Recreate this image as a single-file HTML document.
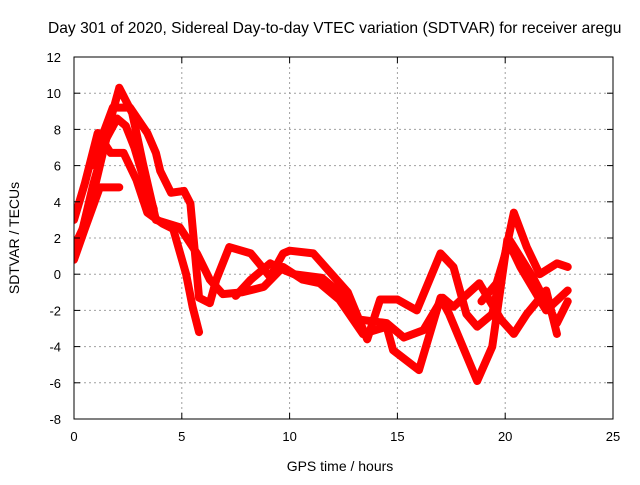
<!DOCTYPE html>
<html><head><meta charset="utf-8"><style>
body{margin:0;background:#fff;width:640px;height:480px;overflow:hidden}
svg{font-family:"Liberation Sans",sans-serif}
</style></head><body>
<svg id="chart" width="640" height="480" viewBox="0 0 640 480">
<text x="48" y="33" font-size="15.6">Day 301 of 2020, Sidereal Day-to-day VTEC variation (SDTVAR) for receiver aregu</text>
<g id="grid"></g>
<g id="series" clip-path="url(#clip)"></g>
<clipPath id="clip"><rect x="74" y="57" width="539" height="362"/></clipPath>
<rect x="74" y="57" width="539" height="362" fill="none" stroke="#000" stroke-width="1"/>
<g id="ticks"></g>
<text x="340" y="471" font-size="14" text-anchor="middle">GPS time / hours</text>
<text transform="translate(19,238) rotate(-90)" font-size="14" text-anchor="middle">SDTVAR / TECUs</text>
</svg>
<script>
const xTicks=[0,5,10,15,20,25];
const yTicks=[-8,-6,-4,-2,0,2,4,6,8,10,12];
const t1h=[0,0.5,1.2,2.1];
const t1v=[0.8,2.5,4.8,4.8];
const t2h=[0,0.5,1.1,1.7,2.3,2.9,3.4,4.1,4.6,5.2,5.5,5.8];
const t2v=[3,5,7.8,6.7,6.7,5.2,3.4,2.8,2.5,0,-1.8,-3.2];
const t3h=[0,0.6,1.2,1.8,2.1,2.7,3.2,3.8,4.9,5.7,6.3,6.9,7.8,8.8,9.7,10.6,11.4,12.3,13.4,14.5,14.8,16,17,17.4,18.7,19.4,20.1,20.7,21.9,22.9];
const t3v=[1.5,3,6,9,10.3,8.9,6.1,3,2.6,1.15,-0.3,-1.1,-1,-0.7,0.4,-0.3,-0.5,-1.4,-3.3,-2.9,-4.2,-5.3,-1.3,-2.2,-5.9,-4,1.9,0.4,-2,-0.9];
const t4h=[0.8,1.8,2.6,3.4,3.8,4.0,4.5,5.1,5.4,5.8,6.3,6.6,7.2,8.2,9.1,9.7,10,11.1,12.7,13.6,14.2,15,15.9,17,17.6,18.2,18.7,19.4,20.4,21,21.6,22.4,22.9];
const t4v=[6,9.2,9.2,7.8,6.7,5.7,4.5,4.6,3.9,-1.3,-1.6,-0.3,1.5,1.15,-0.15,1.15,1.3,1.15,-1,-3.6,-1.4,-1.4,-2,1.15,0.4,-2.2,-2.9,-2.2,3.4,1.5,0,0.6,0.4];
const t5h=[7.5,8.2,9.1,9.6,10.2,11.5,12.5,13.2,14.5,15.3,16.2,17.1,17.6,18.8,19.8,20.4,21,21.9,22.4];
const t5v=[-1.2,-0.3,0.6,0.3,0,-0.2,-1.2,-2.5,-2.7,-3.5,-3.1,-1.3,-1.8,-0.5,-2.5,-3.3,-2.2,-0.9,-3.3];
const t6h=[18.9,19.6,20.2,21.3,22.4,22.9];
const t6v=[-1.5,-0.5,1.9,-0.2,-2.7,-1.5];
const t7h=[0.3,0.9,1.5,2.0,2.4,2.8,3.3,3.7];
const t7v=[2,5,7.5,8.6,8.2,7,5,3.6];
const seriesH=[t1h,t2h,t3h,t4h,t5h,t6h,t7h];
const seriesV=[t1v,t2v,t3v,t4v,t5v,t6v,t7v];
const X=h=>74+h*539/25, Y=v=>57+(12-v)*362/20;
const NS="http://www.w3.org/2000/svg";
const grid=document.getElementById('grid'),ticks=document.getElementById('ticks'),ser=document.getElementById('series');
function mk(tag,attrs,parent){const e=document.createElementNS(NS,tag);for(const k in attrs)e.setAttribute(k,attrs[k]);parent.appendChild(e);return e;}
xTicks.forEach(t=>{const x=X(t);
 if(t>0&&t<25){const g=mk('line',{x1:x,x2:x,y1:57,y2:419,stroke:'#a0a0a0','stroke-dasharray':'2,3'},grid);
 
 }
 mk('line',{x1:x,x2:x,y1:419,y2:413,stroke:'#000'},ticks);mk('line',{x1:x,x2:x,y1:57,y2:63,stroke:'#000'},ticks);
 const l=mk('text',{x:x,y:441,'font-size':13,'text-anchor':'middle'},ticks);l.textContent=t;
 
 });
yTicks.forEach(t=>{const y=Y(t);
 if(t>-8&&t<12){const g=mk('line',{x1:74,x2:613,y1:y,y2:y,stroke:'#a0a0a0','stroke-dasharray':'2,3'},grid);
 
 }
 mk('line',{x1:74,x2:80,y1:y,y2:y,stroke:'#000'},ticks);mk('line',{x1:613,x2:607,y1:y,y2:y,stroke:'#000'},ticks);
 const l=mk('text',{x:61,y:y+5,'font-size':13,'text-anchor':'end'},ticks);l.textContent=t;
 
 });
seriesH.forEach((hs,i)=>{const vs=seriesV[i];
 const p=mk('polyline',{points:hs.map((h,j)=>X(h)+','+Y(vs[j])).join(' '),fill:'none',stroke:'#ff0000','stroke-width':8,'stroke-linejoin':'round','stroke-linecap':'round'},ser);
 
 });
</script>
</body></html>
